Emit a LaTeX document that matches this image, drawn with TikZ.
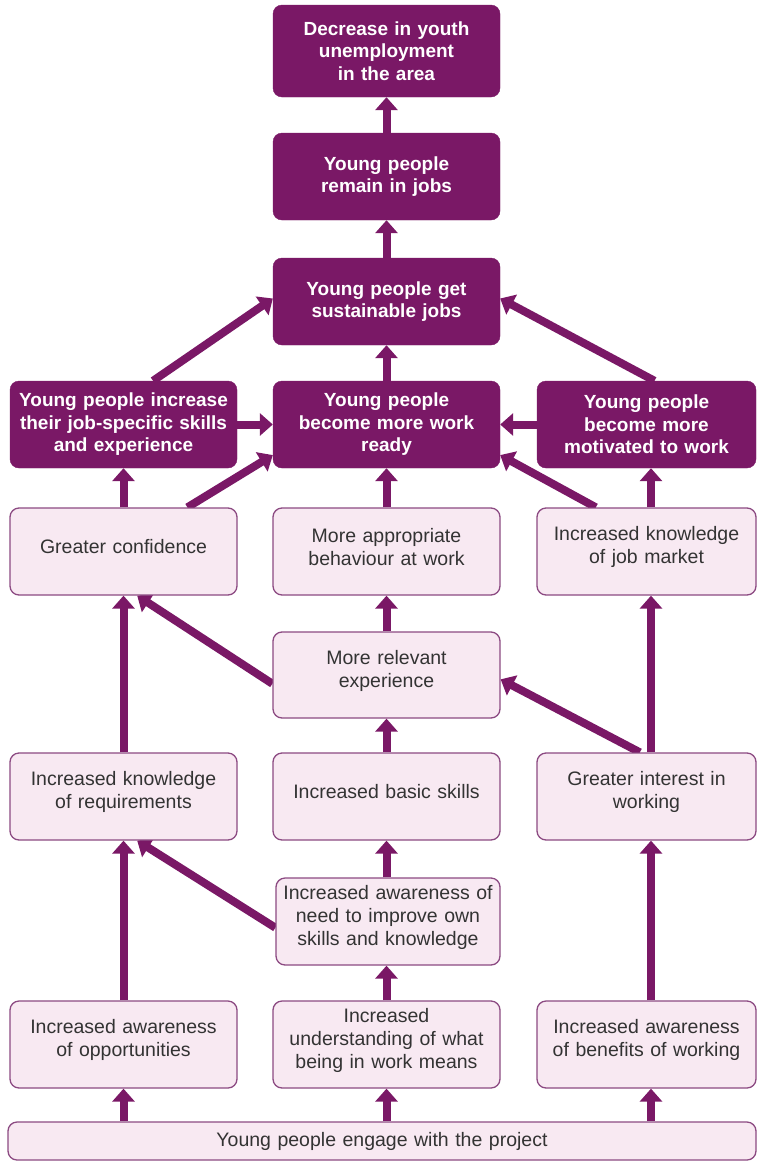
\documentclass[tikz,border=0pt]{standalone}
\usepackage{fontspec}
\setmainfont{Liberation Sans}
\usetikzlibrary{arrows.meta,calc,backgrounds}
\definecolor{pdark}{HTML}{7A1866}
\definecolor{plight}{HTML}{F8E9F2}
\definecolor{pborder}{HTML}{8C4A82}
\definecolor{ptext}{HTML}{333333}
\newcommand\mypadbelow[1]{\par\vspace{#1}}
\begin{document}
\begin{tikzpicture}[x=1pt,y=-1pt,
  darkbox/.style={rounded corners=9pt, fill=pdark, draw=pdark, text=white,
    font=\bfseries\fontsize{19}{22.5}\selectfont, align=center, inner xsep=2pt, inner ysep=0pt, minimum height=87pt},
  lightbase/.style={rounded corners=9pt, fill=plight, draw=pborder, line width=1.3pt, text=ptext,
    font=\fontsize{19.5}{23}\selectfont, align=center, inner xsep=2pt, inner ysep=0pt, minimum height=87pt},
  lightbox/.style={lightbase, execute at end node={\mypadbelow{9pt}}},
  arr/.style={line width=8pt, draw=pdark, -{Triangle[width=22pt,length=13pt]}}]
\useasboundingbox (0,0) rectangle (757,1162);
% dark boxes
\node[darkbox, text width=223pt, minimum height=92pt] (goal) at (386.5,51) {Decrease in youth\\unemployment\\in the area};
\node[darkbox, text width=223pt] (remain) at (386.5,176.5) {Young people\\remain in jobs};
\node[darkbox, text width=223pt] (sustain) at (386.5,301.5) {Young people get\\sustainable jobs};
\node[darkbox, text width=223pt] (jobskills) at (123.5,424.5) {Young people increase\\their job-specific skills\\and experience};
\node[darkbox, text width=223pt] (ready) at (386.5,424.5) {Young people\\become more work\\ready};
\node[darkbox, text width=215pt] (motiv) at (646.5,424.5) {Young people\\become more\\motivated to work};
% light boxes
\node[lightbox, text width=223pt] (confidence) at (123.5,551.5) {Greater confidence};
\node[lightbox, text width=223pt] (behaviour) at (386.5,551.5) {More appropriate\\behaviour at work};
\node[lightbox, text width=215pt] (jobmarket) at (646.5,551.5) {Increased knowledge\\of job market};
\node[lightbox, text width=223pt, minimum height=86pt] (relevant) at (386.5,675) {More relevant\\experience};
\node[lightbox, text width=223pt] (requirements) at (123.5,796.5) {Increased knowledge\\of requirements};
\node[lightbox, text width=223pt] (basic) at (386.5,796.5) {Increased basic skills};
\node[lightbox, text width=215pt] (interest) at (646.5,796.5) {Greater interest in\\working};
\node[lightbox, text width=220pt] (awneed) at (388,921.5) {Increased awareness of\\need to improve own\\skills and knowledge};
\node[lightbox, text width=223pt] (opp) at (123.5,1044.5) {Increased awareness\\of opportunities};
\node[lightbox, text width=223pt] (underst) at (386.5,1044.5) {Increased\\understanding of what\\being in work means};
\node[lightbox, text width=215pt] (benefits) at (646.5,1044.5) {Increased awareness\\of benefits of working};
\node[lightbase, text width=744pt, minimum height=38pt] (engage) at (382,1141) {Young people engage with the project};
% arrows
\begin{pgfonlayer}{background}
\fill[white] (0,0) rectangle (757,1162);
\draw[arr] (remain.north) -- (goal.south);
\draw[arr] (sustain.north) -- (remain.south);
\draw[arr] (ready.north) -- (sustain.south);
\draw[arr] ($(jobskills.north west)!0.63!(jobskills.north east)$) -- ($(sustain.west)+(0,-3)$);
\draw[arr] ($(motiv.north)+(8,0)$) -- ($(sustain.east)+(0,-3)$);
\draw[arr] (jobskills.east) -- (ready.west);
\draw[arr] (motiv.west) -- (ready.east);
\draw[arr] (confidence.north) -- (jobskills.south);
\draw[arr] ($(confidence.north west)!0.78!(confidence.north east)$) -- ($(ready.south west)!0.15!(ready.north west)$);
\draw[arr] (behaviour.north) -- (ready.south);
\draw[arr] ($(jobmarket.north)+(4.5,0)$) -- ($(motiv.south)+(4.5,0)$);
\draw[arr] ($(jobmarket.north west)!0.27!(jobmarket.north east)$) -- ($(ready.south east)!0.15!(ready.north east)$);
\draw[arr] (requirements.north) -- (confidence.south);
\draw[arr] (relevant.north) -- (behaviour.south);
\draw[arr] ($(relevant.south west)!0.4!(relevant.north west)$) -- ($(confidence.south west)!0.56!(confidence.south east)$);
\draw[arr] ($(interest.north west)!0.47!(interest.north east)$) -- ($(relevant.south east)!0.45!(relevant.north east)$);
\draw[arr] ($(interest.north)+(4.5,0)$) -- ($(jobmarket.south)+(4.5,0)$);
\draw[arr] (basic.north) -- (relevant.south);
\draw[arr] (basic.south |- awneed.north) -- (basic.south);
\draw[arr] ($(awneed.south west)!0.43!(awneed.north west)$) -- ($(requirements.south west)!0.56!(requirements.south east)$);
\draw[arr] (opp.north) -- (requirements.south);
\draw[arr] (underst.north) -- (underst.north |- awneed.south);
\draw[arr] ($(benefits.north)+(4.5,0)$) -- ($(interest.south)+(4.5,0)$);
\draw[arr] (opp.south |- engage.north) -- (opp.south);
\draw[arr] (underst.south |- engage.north) -- (underst.south);
\draw[arr] ($(benefits.south |- engage.north)+(4.5,0)$) -- ($(benefits.south)+(4.5,0)$);
\end{pgfonlayer}
\end{tikzpicture}
\end{document}
